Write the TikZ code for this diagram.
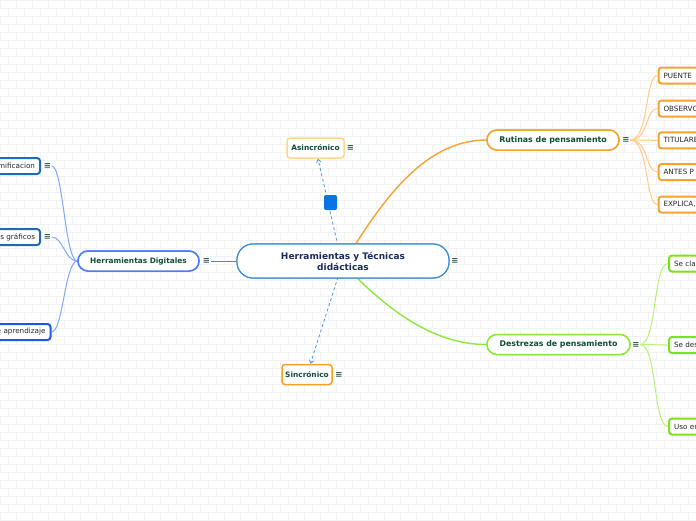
\documentclass[tikz,border=0pt]{standalone}
\usepackage{fontspec}
\setmainfont{DejaVu Sans}
\usetikzlibrary{arrows.meta}
\definecolor{brickc}{HTML}{F2F2F2}
\definecolor{cmain}{HTML}{3E8ED0}
\definecolor{maintext}{HTML}{1C2B5E}
\definecolor{ttext}{HTML}{0F4C3A}
\definecolor{iconc}{HTML}{2F5A4A}
\definecolor{orangeb}{HTML}{F5A330}
\definecolor{orangec}{HTML}{F9A12E}
\definecolor{orangel}{HTML}{FFCB85}
\definecolor{greenb}{HTML}{8DE83B}
\definecolor{greenc}{HTML}{7EE021}
\definecolor{greenl}{HTML}{B6F27A}
\definecolor{hdblue}{HTML}{4D7CF5}
\definecolor{hdline}{HTML}{7FA8F7}
\definecolor{hdc1}{HTML}{1C6BB5}
\definecolor{hdc2}{HTML}{1E56E6}
\definecolor{asinc}{HTML}{FFD884}
\definecolor{sincc}{HTML}{F4A11D}
\definecolor{sqc}{HTML}{0A74E6}
\definecolor{dashc}{HTML}{4B96E6}
\tikzset{
  brick/.style={draw=brickc, line width=0.6pt},
  mainbox/.style={draw=cmain, line width=1.2pt, fill=white, rounded corners=16pt,
    minimum width=212pt, minimum height=34pt, inner sep=0pt, align=center,
    text=maintext, font=\bfseries\fontsize{9}{11}\selectfont},
  titlebox/.style={draw, line width=1.5pt, fill=white, rounded corners=10pt,
    minimum height=20pt, inner sep=0pt, text=ttext, font=\bfseries\fontsize{7.4}{9}\selectfont},
  bigtitle/.style={titlebox, font=\bfseries\fontsize{7.85}{9}\selectfont},
  smallbox/.style={draw, line width=1.5pt, fill=white, rounded corners=3pt,
    minimum height=20pt, inner sep=0pt, text=ttext, font=\bfseries\fontsize{7.4}{9}\selectfont},
  childbox/.style={draw, line width=2pt, fill=white, rounded corners=3pt,
    minimum height=16pt, inner ysep=0pt, inner xsep=5pt, text width=60pt,
    text=black!85, font=\fontsize{7.2}{9}\selectfont},
  menu/.style={text=iconc, inner sep=0.5pt, font=\bfseries\fontsize{8.5}{9}\selectfont},
  dashline/.style={draw=dashc, line width=0.8pt, dash pattern=on 3pt off 2.5pt,
    -{Straight Barb[length=3pt,width=4.5pt]}},
  branch/.style={line width=1.4pt},
  twig/.style={line width=1pt},
  sq/.style={fill=sqc, rounded corners=2pt, minimum width=13pt, minimum height=15pt, inner sep=0pt}
}
\begin{document}
\begin{tikzpicture}[x=1pt,y=-1pt]
\useasboundingbox (0,0) rectangle (696,520);
\clip (0,0) rectangle (696,520);
\fill[white] (0,0) rectangle (696,520);
% brick background
\foreach \r in {0,...,65}{
  \draw[brick] (0,\r*8) -- (696,\r*8);
  \pgfmathsetmacro\off{mod(\r,2)*8}
  \foreach \c in {0,...,44}{ \draw[brick] (\c*16+\off,\r*8) -- ++(0,8); }
}

% coordinates of branch starts
\coordinate (co) at (355,245);
\coordinate (cg) at (356,277);
\coordinate (cda) at (338,246);
\coordinate (cds) at (338,277);

% nodes
\node[mainbox] (c) at (343,261) {Herramientas y Técnicas\\didácticas};
\node[menu] (cm) at (455,261) {≡};

\node[bigtitle, draw=orangeb, minimum width=132pt] (rut) at (553,140) {Rutinas de pensamiento};
\node[menu] (rutm) at (626,140) {≡};
\node[bigtitle, draw=greenb, minimum width=143pt] (dest) at (558.5,344.5) {Destrezas de pensamiento};
\node[menu] (destm) at (636,344.5) {≡};
\node[titlebox, draw=hdblue, minimum width=121pt] (hd) at (138.5,261) {Herramientas Digitales};
\node[menu] (hdm) at (206.5,261) {≡};

\node[smallbox, draw=asinc, minimum width=57pt] (asin) at (315.5,148) {Asincrónico};
\node[menu] (asinm) at (350.5,148) {≡};
\node[smallbox, draw=sincc, minimum width=50pt, minimum height=20pt] (sinc) at (307,374.5) {Sincrónico};
\node[menu] (sincm) at (339,374.5) {≡};

% right children (orange)
\foreach \n/\y/\t in {p1/75.5/PUENTE, p2/108.5/OBSERVO, p3/140.3/TITULARE, p4/172/ANTES P, p5/204.5/{EXPLICA,}}{
  \node[childbox, draw=orangec, anchor=west, align=left] (\n) at (657.5,\y) {\t};
}
% right children (green)
\foreach \n/\y/\t in {g1/263.5/Se cla, g2/345/Se des, g3/426.5/Uso en}{
  \node[childbox, draw=greenc, anchor=west, align=left] (\n) at (668,\y) {\t};
}
% left children (blue)
\node[childbox, draw=hdc1, anchor=east, align=right, text width=70pt] (h1) at (41,166) {mificacion};
\node[menu] (h1m) at (47.5,166) {≡};
\node[childbox, draw=hdc1, anchor=east, align=right, text width=70pt] (h2) at (41,237) {s gráficos};
\node[menu] (h2m) at (47.5,237) {≡};
\node[childbox, draw=hdc2, anchor=east, align=right, text width=70pt] (h3) at (51.5,332) {e aprendizaje};

% branches
\draw[branch, draw=orangeb] (co) .. controls (390,190) and (430,140) .. (rut.west);
\draw[branch, draw=greenb] (cg) .. controls (385,305) and (430,344.5) .. (dest.west);
\draw[branch, draw=hdblue, line width=1pt] (c.west) -- (hdm.east);

% twigs orange
\foreach \n in {p1,p2,p3,p4,p5}{
  \draw[twig, draw=orangel] (rutm.east) .. controls (649,140) and (645,0|-\n.west) .. (\n.west);
}
% twigs green
\foreach \n in {g1,g2,g3}{
  \draw[twig, draw=greenl] (destm.east) .. controls (657,344.5) and (653,0|-\n.west) .. (\n.west);
}
% twigs blue
\draw[twig, draw=hdline] (hd.west) .. controls (65,261) and (63,166) .. (h1m.east);
\draw[twig, draw=hdline] (hd.west) .. controls (65,261) and (63,237) .. (h2m.east);
\draw[twig, draw=hdline] (hd.west) .. controls (65,261) and (63,332) .. (h3.east);

% dashed relations
\draw[dashline] (cda) -- (asin);
\draw[dashline] (cds) -- (sinc);
\node[sq] (sqr) at (330.5,202.5) {};

% redraw main nodes on top of connectors
\node[mainbox] at (c) {Herramientas y Técnicas\\didácticas};
\node[bigtitle, draw=orangeb, minimum width=132pt] at (rut) {Rutinas de pensamiento};
\node[bigtitle, draw=greenb, minimum width=143pt] at (dest) {Destrezas de pensamiento};
\node[titlebox, draw=hdblue, minimum width=121pt] at (hd) {Herramientas Digitales};
\end{tikzpicture}
\end{document}
